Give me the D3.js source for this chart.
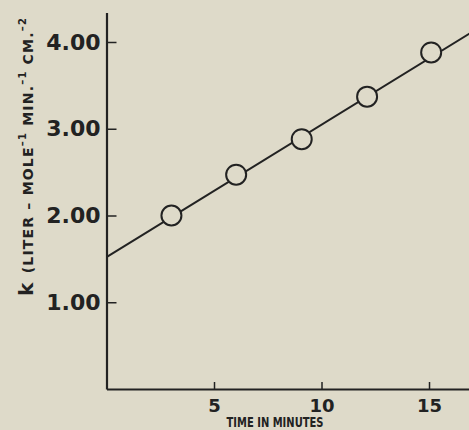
<!DOCTYPE html>
<html>
<head>
<meta charset="utf-8">
<script src="https://cdn.jsdelivr.net/npm/d3@7"></script>
<style>
  body { margin: 0; background: #dedac9; }
  svg { display: block; }
  .tick text { font-family: "DejaVu Sans", sans-serif; font-weight: bold; fill: #222; }
</style>
</head>
<body>
<svg id="svg"></svg>
<script>
const width = 469;
const height = 430;

// measured points
const timeMin = [3.02, 6.03, 9.08, 12.12, 15.1];
const kValues = [2.0, 2.47, 2.88, 3.37, 3.88];
// straight line drawn through them
const fitTime = [0, 16.9];
const fitK = [1.52, 4.1];
const xTicks = [5, 10, 15];
const yTicks = [1, 2, 3, 4];

const ink = "#222";
const paper = "#dedac9";

const svg = d3.select("#svg").attr("width", width).attr("height", height);

svg.append("rect").attr("width", width).attr("height", height).attr("fill", paper);

const x = d3.scaleLinear().domain([0, 16.86]).range([106.5, 469]);
const y = d3.scaleLinear().domain([0, 4.34]).range([389, 12.5]);

// y axis
const yAxis = svg
  .append("g")
  .attr("transform", `translate(${x(0)},0)`)
  .call(
    d3.axisLeft(y)
      .tickValues(yTicks)
      .tickFormat(d3.format(".2f"))
      .tickSizeInner(-10)
      .tickSizeOuter(0)
      .tickPadding(6)
  );
yAxis.select(".domain").attr("stroke", ink).attr("stroke-width", 2.2);
yAxis.selectAll(".tick line").attr("stroke", ink).attr("stroke-width", 1.5);
yAxis.selectAll(".tick text").attr("font-size", 22);

// x axis
const xAxis = svg
  .append("g")
  .attr("transform", `translate(0,${y(0)})`)
  .call(
    d3.axisBottom(x)
      .tickValues(xTicks)
      .tickSizeInner(-7)
      .tickSizeOuter(0)
      .tickPadding(10)
  );
xAxis.select(".domain").attr("stroke", ink).attr("stroke-width", 2.2);
xAxis.selectAll(".tick line").attr("stroke", ink).attr("stroke-width", 1.5);
xAxis.selectAll(".tick text").attr("font-size", 18);

// fitted line
const line = d3.line()
  .x((d) => x(d[0]))
  .y((d) => y(d[1]));

svg
  .append("path")
  .datum(d3.zip(fitTime, fitK))
  .attr("d", line)
  .attr("fill", "none")
  .attr("stroke", ink)
  .attr("stroke-width", 2);

// open circles
svg
  .selectAll("circle.pt")
  .data(d3.zip(timeMin, kValues))
  .enter()
  .append("circle")
  .attr("class", "pt")
  .attr("cx", (d) => x(d[0]))
  .attr("cy", (d) => y(d[1]))
  .attr("r", 10)
  .attr("fill", paper)
  .attr("stroke", ink)
  .attr("stroke-width", 2);

// x label
svg
  .append("text")
  .attr("x", 275)
  .attr("y", 427)
  .attr("text-anchor", "middle")
  .attr("font-family", "DejaVu Sans, sans-serif")
  .attr("font-weight", "bold")
  .attr("font-size", 14.5)
  .attr("textLength", 97)
  .attr("lengthAdjust", "spacingAndGlyphs")
  .attr("fill", ink)
  .text("TIME IN MINUTES");

// y label, rotated
const ylab = svg
  .append("text")
  .attr("transform", "translate(33,296) rotate(-90)")
  .attr("font-family", "DejaVu Sans, sans-serif")
  .attr("font-weight", "bold")
  .attr("fill", ink)
  .attr("letter-spacing", 1.2);

ylab.append("tspan").attr("font-size", 20).text("k ");
ylab.append("tspan").attr("font-size", 14).text("(LITER – MOLE");
ylab.append("tspan").attr("font-size", 10).attr("dy", -7).text("–1");
ylab.append("tspan").attr("font-size", 14).attr("dy", 7).text(" MIN.");
ylab.append("tspan").attr("font-size", 10).attr("dy", -7).text("–1");
ylab.append("tspan").attr("font-size", 14).attr("dy", 7).text(" CM.");
ylab.append("tspan").attr("font-size", 10).attr("dy", -7).text("–2");
</script>
</body>
</html>
